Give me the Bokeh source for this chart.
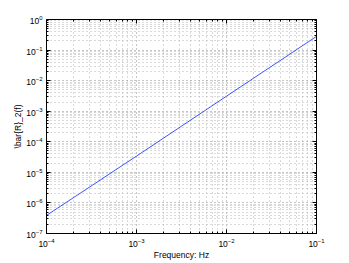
from bokeh.plotting import figure
from bokeh.models import FixedTicker, Range1d, LogAxis
from bokeh.embed import file_html
from bokeh.resources import INLINE

freq_hz = [1e-4, 1e-3, 1e-2, 1e-1]
r2_values = [3.9e-7, 3.4e-5, 3.1e-3, 2.8e-1]
x_ticks = [1e-4, 1e-3, 1e-2, 1e-1]
y_ticks = [1e-7, 1e-6, 1e-5, 1e-4, 1e-3, 1e-2, 1e-1, 1e0]
x_minor = [m * 10**e for e in range(-4, -1) for m in range(2, 10)]
y_minor = [m * 10**e for e in range(-7, 0) for m in range(2, 10)]

p = figure(width=349, height=263, x_axis_type="log", y_axis_type="log",
           x_range=Range1d(1e-4, 1e-1), y_range=Range1d(1e-7, 1e0),
           output_backend="svg", toolbar_location=None,
           min_border_left=46, min_border_right=33, min_border_top=19, min_border_bottom=30)
p.background_fill_color = "white"
p.border_fill_color = "white"
p.outline_line_color = "black"
p.outline_line_width = 1

p.line(freq_hz, r2_values, line_color="#3a55ff", line_width=1)

p.add_layout(LogAxis(ticker=FixedTicker(ticks=y_ticks, minor_ticks=y_minor)), "right")
p.add_layout(LogAxis(ticker=FixedTicker(ticks=x_ticks, minor_ticks=x_minor)), "above")

FONT = "Liberation Sans"
for ax in p.xaxis + p.yaxis:
    ax.major_tick_in = 4
    ax.major_tick_out = 0
    ax.minor_tick_in = 2
    ax.minor_tick_out = 0
    ax.axis_line_color = "black"
    ax.major_label_text_font = FONT
    ax.major_label_text_font_size = "8.5px"
    ax.major_label_text_color = "black"
    ax.axis_label_text_font = FONT
    ax.axis_label_text_font_size = "8.5px"
    ax.axis_label_text_font_style = "normal"
    ax.axis_label_text_color = "black"
for ax in (p.right[0], p.above[0]):
    ax.major_label_text_alpha = 0
    ax.major_label_standoff = 0

p.below[0].ticker = FixedTicker(ticks=x_ticks, minor_ticks=x_minor)
p.left[0].ticker = FixedTicker(ticks=y_ticks, minor_ticks=y_minor)
p.below[0].axis_label = "Frequency: Hz"
p.left[0].axis_label = "\\bar{R}_2(f)"
p.below[0].axis_label_standoff = 0
p.left[0].axis_label_standoff = 0
p.below[0].major_label_standoff = 4
p.left[0].major_label_standoff = 4

for g in (p.xgrid[0], p.ygrid[0]):
    g.grid_line_color = "#8a8a8a"
    g.grid_line_dash = "1 3"
    g.grid_line_width = 1
    g.minor_grid_line_color = "#b5b5b5"
    g.minor_grid_line_dash = "1 3"
    g.minor_grid_line_width = 1

out = file_html(p, INLINE)
open("out.html", "w").write(out)
